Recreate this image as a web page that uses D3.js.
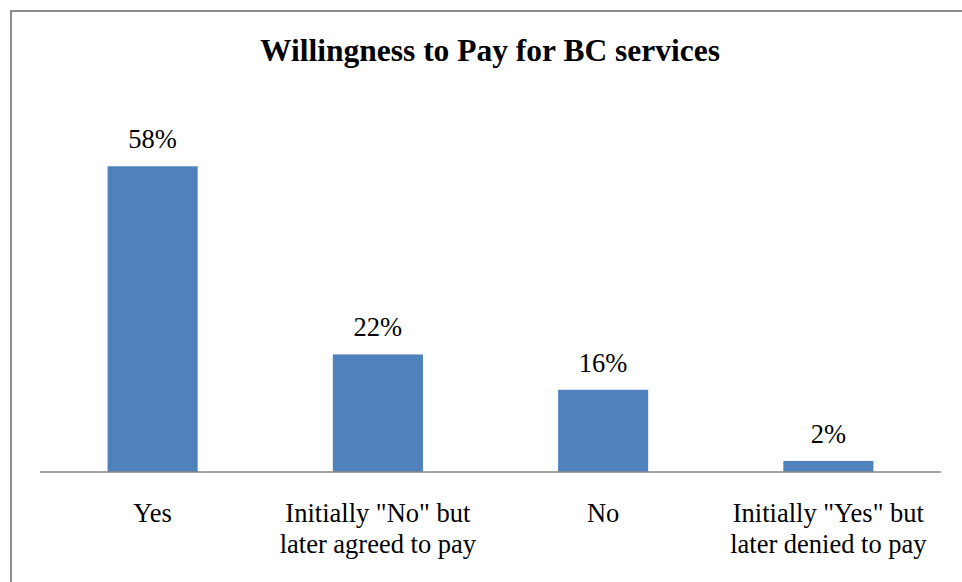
<!DOCTYPE html>
<html><head><meta charset="utf-8">
<script src="https://cdn.jsdelivr.net/npm/d3@7"></script>
<style>html,body{margin:0;padding:0;background:#fff;overflow:hidden}</style>
</head><body>
<svg id="c" width="962" height="582"></svg>
<script>
const categories = [["Yes"], ["Initially \"No\" but", "later agreed to pay"], ["No"], ["Initially \"Yes\" but", "later denied to pay"]];
const values = [58, 22.3, 15.6, 2.1];
const valueLabels = ["58%", "22%", "16%", "2%"];
const title = "Willingness to Pay for BC services";

const svg = d3.select("#c");
const font = "'Liberation Serif','Times New Roman',serif";

svg.append("rect").attr("x", 11).attr("y", 11).attr("width", 980).attr("height", 600)
  .attr("fill", "#fff").attr("stroke", "#8c8c8c").attr("stroke-width", 2);

svg.append("text").attr("x", 490).attr("y", 61).attr("text-anchor", "middle")
  .attr("font-family", font).attr("font-weight", "bold").attr("font-size", 31.5)
  .text(title);

const x = d3.scaleBand().domain(d3.range(values.length)).range([40, 941]).paddingInner(0.6).paddingOuter(0.3);
const y = d3.scaleLinear().domain([0, 70]).range([472, 103]);

svg.selectAll("rect.bar").data(values).join("rect").attr("class", "bar")
  .attr("x", (d, i) => x(i)).attr("width", x.bandwidth())
  .attr("y", d => y(d)).attr("height", d => y(0) - y(d))
  .attr("fill", "#4F81BD");

svg.append("line").attr("x1", 40).attr("x2", 941).attr("y1", y(0)).attr("y2", y(0))
  .attr("stroke", "#868686").attr("stroke-width", 1.5);

svg.selectAll("text.val").data(values).join("text").attr("class", "val")
  .attr("x", (d, i) => x(i) + x.bandwidth() / 2).attr("y", d => y(d) - 18)
  .attr("text-anchor", "middle").attr("font-family", font).attr("font-size", 26.5)
  .text((d, i) => valueLabels[i]);

const cat = svg.selectAll("text.cat").data(categories).join("text").attr("class", "cat")
  .attr("text-anchor", "middle").attr("font-family", font).attr("font-size", 26.5);
cat.each(function(lines, i) {
  d3.select(this).selectAll("tspan").data(lines).join("tspan")
    .attr("x", x(i) + x.bandwidth() / 2)
    .attr("y", (l, j) => 522 + j * 31)
    .text(l => l);
});
</script>
</body></html>
